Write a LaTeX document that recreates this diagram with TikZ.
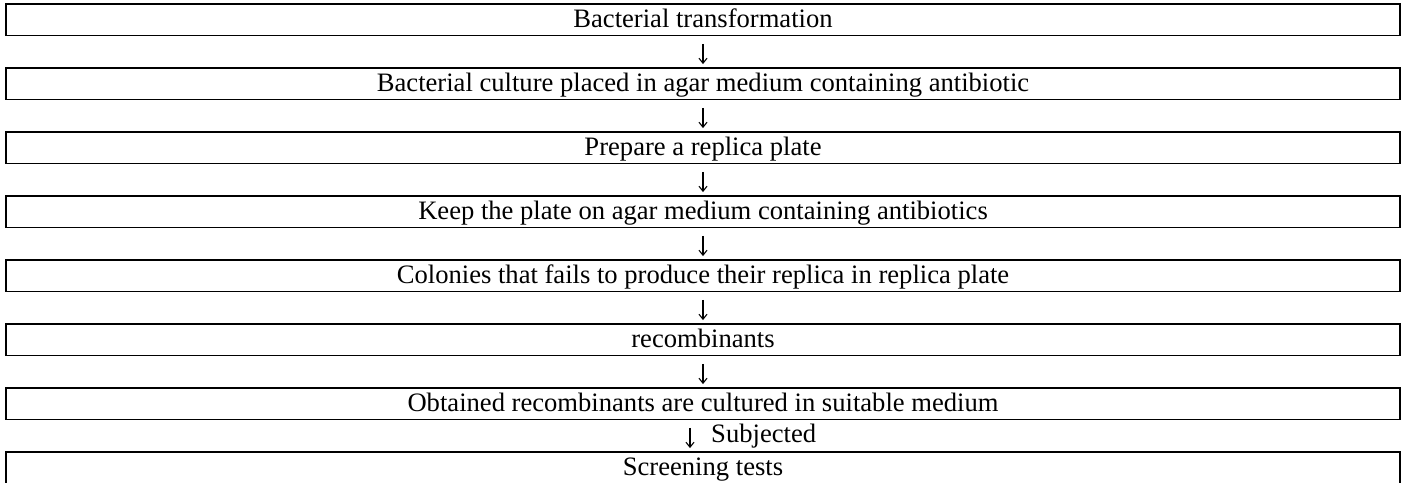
\documentclass[tikz,border=0pt]{standalone}
\usepackage{fontspec}
\setmainfont{Liberation Serif}
\usetikzlibrary{arrows.meta}

\begin{document}
\begin{tikzpicture}[x=1pt, y=1pt, font=\fontsize{13.3}{15}\selectfont,
    stepbox/.style={draw, line width=0.9pt, minimum width=697pt, minimum height=15.75pt,
        inner sep=0pt, text height=10.3pt, text depth=2.5pt},
    flow/.style={line width=0.55pt, -{Straight Barb[length=2.5pt,width=4pt]},
        shorten <=3.75pt, shorten >=1.5pt}]
    \useasboundingbox (0,0) rectangle (703,-241);
    \node[stepbox] (1) at (351.5,-9.875) {Bacterial transformation};
    \node[stepbox] (2) at (351.5,-41.875) {Bacterial culture placed in agar medium containing antibiotic};
    \node[stepbox] (3) at (351.5,-73.875) {Prepare a replica plate};
    \node[stepbox] (4) at (351.5,-105.875) {Keep the plate on agar medium containing antibiotics};
    \node[stepbox] (5) at (351.5,-137.875) {Colonies that fails to produce their replica in replica plate};
    \node[stepbox] (6) at (351.5,-169.875) {recombinants};
    \node[stepbox] (7) at (351.5,-201.875) {Obtained recombinants are cultured in suitable medium};
    \node[stepbox] (8) at (351.5,-233.875) {Screening tests};
    \path[flow] (1.south) edge (2.north);
    \path[flow] (2.south) edge (3.north);
    \path[flow] (3.south) edge (4.north);
    \path[flow] (4.south) edge (5.north);
    \path[flow] (5.south) edge (6.north);
    \path[flow] (6.south) edge (7.north);
    \path[flow] ([xshift=-6.5pt]7.south) edge node[right=7pt] {Subjected} ([xshift=-6.5pt]8.north);
\end{tikzpicture}
\end{document}
